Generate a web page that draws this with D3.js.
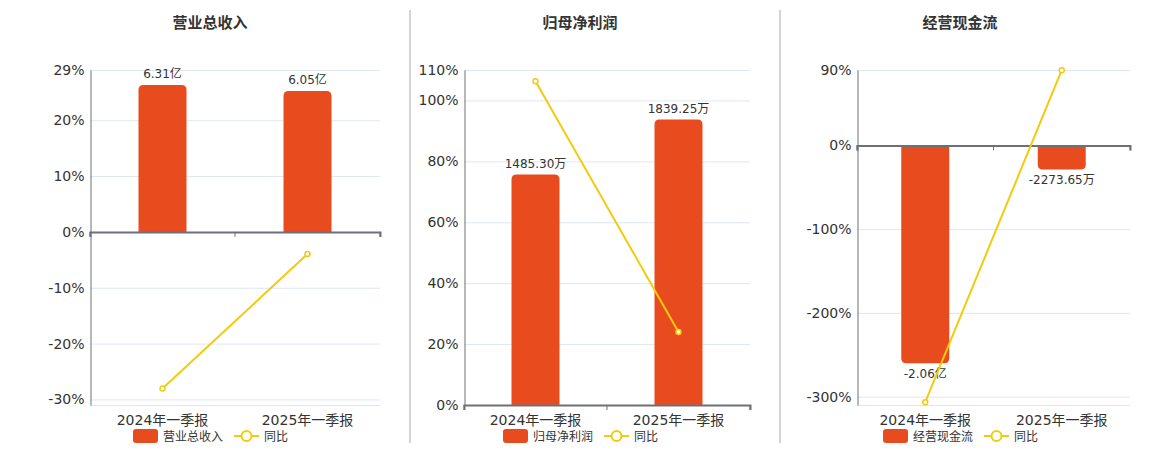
<!DOCTYPE html>
<html><head><meta charset="utf-8">
<script src="https://cdn.jsdelivr.net/npm/d3@7/dist/d3.min.js"></script>
<style>
body{margin:0;background:#fff;}
text{font-family:"DejaVu Sans","Noto Sans CJK SC",sans-serif;}
</style></head>
<body><svg id="c" width="1160" height="450"></svg>
<script>
// ---- data ----
const categories = ["2024年一季报", "2025年一季报"];
const titles = ["营业总收入", "归母净利润", "经营现金流"];
// bar values in 万元
const revenue = [63100, 60500];
const netProfit = [1485.30, 1839.25];
const cashFlow = [-20600, -2273.65];
// YoY growth, %
const revenueYoY = [-28.06, -3.95];
const netProfitYoY = [106.3, 24.0];
const cashFlowYoY = [-306.6, 89.8];
// y-axis tick labels, %
const ticks1 = [29, 20, 10, 0, -10, -20, -30];
const ticks2 = [110, 100, 80, 60, 40, 20, 0];
const ticks3 = [90, 0, -100, -200, -300];
const legendLine = "同比";

const barColor = "#E84C1E", lineColor = "#F2CB0F";
const svg = d3.select("#c");

const panels = [
  {title: titles[0], bars: revenue, yoy: revenueYoY, ticks: ticks1, pct: [-31, 29], barDom: [-31/29*6.955e4, 6.955e4], x0: 90, x1: 380, cx: 210},
  {title: titles[1], bars: netProfit, yoy: netProfitYoY, ticks: ticks2, pct: [0, 110], barDom: [0, 2159], x0: 464, x1: 750, cx: 580},
  {title: titles[2], bars: cashFlow, yoy: cashFlowYoY, ticks: ticks3, pct: [-310, 90], barDom: [-24550, 24550*90/310], x0: 857, x1: 1130, cx: 960}
];
const yTop = 70, yBot = 405;

function fmt(v){
  return Math.abs(v) >= 10000 ? (v/10000).toFixed(2) + "亿" : v.toFixed(2) + "万";
}
function barPath(x, w, y0, y1, r){
  // y0 = zero baseline, y1 = end; round the far end
  if (y1 < y0){
    return `M${x},${y0}V${y1+r}Q${x},${y1} ${x+r},${y1}H${x+w-r}Q${x+w},${y1} ${x+w},${y1+r}V${y0}Z`;
  } else {
    return `M${x},${y0}V${y1-r}Q${x},${y1} ${x+r},${y1}H${x+w-r}Q${x+w},${y1} ${x+w},${y1-r}V${y0}Z`;
  }
}

// separators
[410, 780].forEach(x => svg.append("line").attr("x1", x).attr("x2", x).attr("y1", 10).attr("y2", 443).attr("stroke", "#aaa").attr("stroke-width", 1));

panels.forEach(p => {
  const g = svg.append("g");
  const x = d3.scaleBand().domain(categories).range([p.x0, p.x1]);
  const y = d3.scaleLinear().domain(p.pct).range([yBot, yTop]);
  const yb = d3.scaleLinear().domain(p.barDom).range([yBot, yTop]);

  g.append("text").attr("x", p.cx).attr("y", 28).attr("text-anchor", "middle")
    .attr("font-size", 15).attr("font-weight", "bold").attr("fill", "#333").text(p.title);

  // grid
  g.selectAll(".grid").data(p.ticks.concat([p.pct[0]])).enter().append("line")
    .attr("x1", p.x0).attr("x2", p.x1).attr("y1", d => y(d) + 0.5).attr("y2", d => y(d) + 0.5)
    .attr("stroke", "#E0E6F1").attr("stroke-width", 1);

  // y axis
  const ya = d3.axisLeft(y).tickValues(p.ticks).tickFormat(d => d + "%").tickSize(0).tickPadding(6);
  const yag = g.append("g").attr("transform", `translate(${p.x0 + 0.5},0)`).call(ya);
  yag.select(".domain").attr("stroke", "#6E7079");
  yag.selectAll("text").attr("font-size", 14).attr("fill", "#333");

  // bars
  const bw = 48;
  g.selectAll(".bar").data(p.bars).enter().append("path")
    .attr("d", (d, i) => barPath(x(categories[i]) + x.bandwidth()/2 - bw/2, bw, yb(0), yb(d), 5))
    .attr("fill", barColor);

  // zero axis
  const xa = d3.axisBottom(x).tickSize(5).tickFormat("");
  const xag = g.append("g").attr("transform", `translate(0,${y(0)})`).call(xa);
  xag.select(".domain").attr("stroke", "#6E7079").attr("stroke-width", 2);
  xag.selectAll(".tick line").attr("stroke", "#6E7079").attr("transform", `translate(${-x.bandwidth()/2},0)`);
  xag.append("line").attr("x1", p.x1).attr("x2", p.x1).attr("y1", 0).attr("y2", 5).attr("stroke", "#6E7079");

  // category labels
  g.selectAll(".cat").data(categories).enter().append("text")
    .attr("x", d => x(d) + x.bandwidth()/2).attr("y", 425).attr("text-anchor", "middle")
    .attr("font-size", 14).attr("fill", "#333").text(d => d);

  // bar labels
  g.selectAll(".bl").data(p.bars).enter().append("text")
    .attr("x", (d, i) => x(categories[i]) + x.bandwidth()/2)
    .attr("y", d => d >= 0 ? yb(d) - 7 : yb(d) + 15)
    .attr("text-anchor", "middle").attr("font-size", 12).attr("fill", "#333")
    .text(d => fmt(d));

  // line
  const line = d3.line().x((d, i) => x(categories[i]) + x.bandwidth()/2).y(d => y(d));
  g.append("path").datum(p.yoy).attr("d", line).attr("fill", "none").attr("stroke", lineColor).attr("stroke-width", 2);
  g.selectAll(".pt").data(p.yoy).enter().append("circle")
    .attr("cx", (d, i) => x(categories[i]) + x.bandwidth()/2).attr("cy", d => y(d)).attr("r", 2.5)
    .attr("fill", "#fff").attr("stroke", lineColor).attr("stroke-width", 1.5);

  // legend
  const lx = p.cx - 77, ly = 436;
  g.append("rect").attr("x", lx).attr("y", ly - 7).attr("width", 25).attr("height", 14).attr("rx", 3).attr("fill", barColor);
  g.append("text").attr("x", lx + 30).attr("y", ly + 4.5).attr("font-size", 12).attr("fill", "#333").text(p.title);
  const l2 = lx + 101;
  g.append("line").attr("x1", l2).attr("x2", l2 + 25).attr("y1", ly).attr("y2", ly).attr("stroke", lineColor).attr("stroke-width", 2);
  g.append("circle").attr("cx", l2 + 12.5).attr("cy", ly).attr("r", 5).attr("fill", "#fff").attr("stroke", lineColor).attr("stroke-width", 2);
  g.append("text").attr("x", l2 + 30).attr("y", ly + 4.5).attr("font-size", 12).attr("fill", "#333").text(legendLine);
});
</script></body></html>
